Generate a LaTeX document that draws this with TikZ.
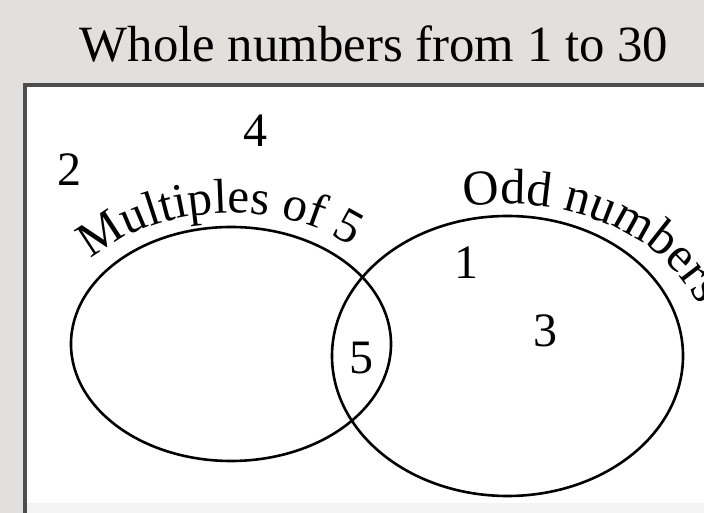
\documentclass[tikz,border=0pt]{standalone}
\usepackage{fontspec}
\setmainfont{Liberation Serif}
\usetikzlibrary{decorations.text}

\definecolor{pagegray}{HTML}{E3DFDC}
\definecolor{framegray}{HTML}{4D4D4D}
\definecolor{stripgray}{HTML}{F3F3F3}

\tikzset{
  numlabel/.style={font=\fontsize{48}{52}\selectfont},
  setline/.style={line width=2.6pt},
}

\begin{document}
\begin{tikzpicture}[x=1pt,y=1pt]
\useasboundingbox (0,0) rectangle (704,513);
\clip (0,0) rectangle (704,513);
% page and frame
\fill[pagegray] (0,0) rectangle (704,513);
\fill[white] (25,10) rectangle (704,428);
\fill[stripgray] (25,0) rectangle (704,10);
\draw[framegray,line width=3.5pt] (25,0) -- (25,428) -- (704,428);
\node[anchor=base,font=\fontsize{50.8}{56}\selectfont] (title) at (374,451) {Whole numbers from 1 to 30};
% the two sets
\draw[setline] (231,169) ellipse [x radius=160, y radius=117];
\draw[setline] (507.5,157) ellipse [x radius=175.5, y radius=140];
\path[decorate,decoration={text along path,text align=left,
  text={|\fontsize{49}{52}\selectfont|Multiples of 5}}]
  (231,163) ++(139:185 and 137) arc[start angle=139, end angle=10, x radius=185, y radius=137];
\path[decorate,decoration={text along path,text align=left,
  text={|\fontsize{50}{54}\selectfont|Odd numbers}}]
  (507,151) ++(102:205 and 158) arc[start angle=102, end angle=-20, x radius=205, y radius=158];
% elements
\node[numlabel] (n4) at (255,382) {4};
\node[numlabel] (n2) at (69,343) {2};
\node[numlabel] (n1) at (466,250) {1};
\node[numlabel] (n3) at (545,182) {3};
\node[numlabel] (n5) at (361,155) {5};
\end{tikzpicture}
\end{document}
